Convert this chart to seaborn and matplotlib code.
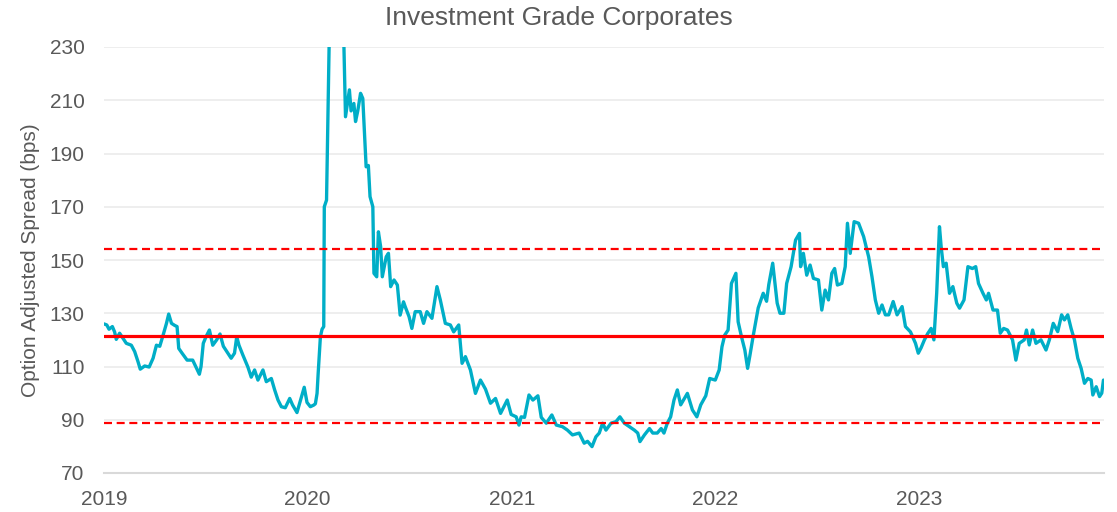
import pandas as pd
import matplotlib
matplotlib.use("Agg")
import matplotlib.pyplot as plt
import seaborn as sns

# Option adjusted spread (bps)
dates = [
    "2019-01-01", "2019-01-06", "2019-01-10", "2019-01-16", "2019-01-20", "2019-01-23", "2019-01-29",
    "2019-02-04", "2019-02-10", "2019-02-19", "2019-02-25", "2019-03-03", "2019-03-07", "2019-03-15",
    "2019-03-23", "2019-03-30", "2019-04-05", "2019-04-11", "2019-04-17", "2019-04-23", "2019-04-27",
    "2019-05-02", "2019-05-08", "2019-05-12", "2019-05-15", "2019-05-21", "2019-05-30", "2019-06-09",
    "2019-06-16", "2019-06-21", "2019-06-24", "2019-06-28", "2019-07-03", "2019-07-09", "2019-07-15",
    "2019-07-22", "2019-07-28", "2019-08-03", "2019-08-11", "2019-08-17", "2019-08-23", "2019-08-27",
    "2019-08-31", "2019-09-07", "2019-09-16", "2019-09-22", "2019-09-28", "2019-10-04", "2019-10-13",
    "2019-10-19", "2019-10-28", "2019-11-03", "2019-11-09", "2019-11-15", "2019-11-22", "2019-11-30",
    "2019-12-05", "2019-12-13", "2019-12-21", "2019-12-26", "2019-12-31",
    "2020-01-06", "2020-01-12", "2020-01-15", "2020-01-18", "2020-01-20", "2020-01-24", "2020-01-27",
    "2020-01-30", "2020-01-31", "2020-02-04", "2020-02-20", "2020-03-09", "2020-03-16", "2020-03-19",
    "2020-03-24", "2020-03-27", "2020-03-31", "2020-04-05", "2020-04-09", "2020-04-15", "2020-04-19",
    "2020-04-22", "2020-04-27", "2020-04-29", "2020-05-04", "2020-05-07", "2020-05-11", "2020-05-14",
    "2020-05-21", "2020-05-25", "2020-05-29", "2020-06-04", "2020-06-10", "2020-06-15", "2020-06-21",
    "2020-06-24", "2020-07-01", "2020-07-06", "2020-07-12", "2020-07-21", "2020-07-27", "2020-08-02",
    "2020-08-11", "2020-08-20", "2020-08-26", "2020-09-04", "2020-09-13", "2020-09-19", "2020-09-28",
    "2020-10-04", "2020-10-10", "2020-10-19", "2020-10-28", "2020-11-06", "2020-11-15", "2020-11-24",
    "2020-12-03", "2020-12-12", "2020-12-24", "2020-12-31",
    "2021-01-09", "2021-01-14", "2021-01-18", "2021-01-24", "2021-02-01", "2021-02-08", "2021-02-17",
    "2021-02-23", "2021-03-04", "2021-03-14", "2021-03-22", "2021-04-02", "2021-04-11", "2021-04-20",
    "2021-05-02", "2021-05-11", "2021-05-17", "2021-05-25", "2021-06-01", "2021-06-07", "2021-06-13",
    "2021-06-19", "2021-06-28", "2021-07-07", "2021-07-14", "2021-07-22", "2021-07-31", "2021-08-09",
    "2021-08-15", "2021-08-19", "2021-08-27", "2021-09-05", "2021-09-11", "2021-09-19", "2021-09-26",
    "2021-10-01", "2021-10-07", "2021-10-13", "2021-10-19", "2021-10-25", "2021-10-31", "2021-11-12",
    "2021-11-21", "2021-11-29", "2021-12-06", "2021-12-15", "2021-12-22",
    "2022-01-01", "2022-01-08", "2022-01-13", "2022-01-18", "2022-01-24", "2022-01-30", "2022-02-07",
    "2022-02-11", "2022-02-17", "2022-02-23", "2022-02-28", "2022-03-04", "2022-03-10", "2022-03-19",
    "2022-03-28", "2022-04-03", "2022-04-07", "2022-04-14", "2022-04-22", "2022-04-27", "2022-05-04",
    "2022-05-09", "2022-05-17", "2022-05-25", "2022-06-01", "2022-06-03", "2022-06-08", "2022-06-14",
    "2022-06-20", "2022-06-26", "2022-07-05", "2022-07-11", "2022-07-17", "2022-07-23", "2022-07-29",
    "2022-08-03", "2022-08-08", "2022-08-16", "2022-08-22", "2022-08-26", "2022-08-31", "2022-09-07",
    "2022-09-15", "2022-09-24", "2022-10-03", "2022-10-09", "2022-10-15", "2022-10-21", "2022-10-27",
    "2022-11-02", "2022-11-08", "2022-11-16", "2022-11-23", "2022-12-02", "2022-12-08", "2022-12-17",
    "2022-12-26", "2022-12-31",
    "2023-01-05", "2023-01-11", "2023-01-17", "2023-01-23", "2023-01-28", "2023-02-02", "2023-02-07",
    "2023-02-10", "2023-02-14", "2023-02-19", "2023-02-25", "2023-03-03", "2023-03-10", "2023-03-15",
    "2023-03-23", "2023-03-30", "2023-04-07", "2023-04-13", "2023-04-18", "2023-04-26", "2023-05-02",
    "2023-05-06", "2023-05-14", "2023-05-22", "2023-05-27", "2023-06-02", "2023-06-09", "2023-06-18",
    "2023-06-24", "2023-06-30", "2023-07-09", "2023-07-13", "2023-07-18", "2023-07-24", "2023-07-30",
    "2023-08-08", "2023-08-17", "2023-08-23", "2023-08-30", "2023-09-07", "2023-09-14", "2023-09-19",
    "2023-09-25", "2023-10-01", "2023-10-07", "2023-10-13", "2023-10-19", "2023-10-25", "2023-10-31",
    "2023-11-06", "2023-11-09", "2023-11-15", "2023-11-21", "2023-11-25", "2023-11-28",
]
spread_bps = [
    126.0, 125.6, 124.0, 125.0, 123.0, 120.2, 122.5,
    120.6, 118.7, 118.0, 115.6, 111.8, 109.0, 110.2,
    109.8, 113.1, 118.0, 117.6, 121.8, 126.2, 129.7,
    126.2, 125.4, 125.0, 116.8, 115.0, 112.4, 112.4,
    109.3, 107.1, 110.0, 118.7, 121.2, 123.7, 118.0,
    120.0, 122.2, 117.6, 115.0, 113.1, 115.0, 121.2,
    118.0, 114.3, 109.8, 106.0, 108.7, 104.9, 108.7,
    104.3, 105.5, 101.2, 97.4, 94.9, 94.5, 98.0,
    95.6, 92.7, 98.6, 102.2, 96.5,
    94.9, 95.5, 96.0, 99.9, 107.4, 121.2, 124.0,
    125.0, 170.0, 172.5, 373.0, 203.8, 213.9, 206.0,
    208.8, 202.0, 206.0, 212.6, 210.7, 185.0, 185.5,
    173.8, 170.0, 145.0, 143.7, 160.6, 155.0, 143.7,
    151.2, 152.5, 140.0, 142.5, 140.6, 129.3, 134.3,
    132.5, 128.7, 124.3, 130.6, 130.6, 126.2, 130.6,
    128.1, 140.0, 135.0, 126.2, 125.6, 123.0, 125.6,
    111.2, 113.7, 108.7, 99.9, 104.9, 101.5, 96.2,
    98.0, 92.4, 97.4, 92.0,
    91.1, 88.0, 91.1, 90.9, 99.3, 97.4, 99.0,
    90.9, 88.7, 91.8, 88.0, 87.4, 86.1, 84.3,
    85.0, 81.2, 81.9, 79.9, 83.6, 85.0, 88.7,
    86.1, 88.7, 89.3, 91.1, 88.7, 87.4, 86.1,
    85.0, 81.8, 84.3, 86.7, 85.0, 85.0, 86.7,
    85.0, 88.7, 91.1, 97.4, 101.2, 95.6, 99.9,
    93.7, 91.1, 95.6, 99.0, 105.5,
    104.9, 108.7, 117.4, 121.8, 123.7, 141.2, 145.0,
    126.8, 121.2, 116.2, 109.3, 114.0, 121.5, 132.0,
    137.5, 134.5, 140.8, 148.8, 133.8, 130.0, 130.0,
    141.2, 147.5, 157.5, 160.0, 147.5, 152.5, 144.3,
    148.1, 143.1, 142.5, 131.2, 138.7, 135.0, 145.0,
    146.8, 140.6, 141.2, 147.5, 163.8, 152.5, 164.4,
    163.8, 158.8, 151.2, 143.7, 135.0, 130.0, 133.1,
    129.4, 129.4, 134.4, 129.4, 132.5, 125.0, 123.0,
    118.7, 115.0,
    117.0, 120.0, 122.4, 124.3, 120.0, 137.5, 162.5,
    155.0, 147.5, 148.8, 137.5, 140.0, 133.8, 131.9,
    135.0, 147.5, 146.8, 147.5, 141.2, 137.5, 135.0,
    137.5, 131.2, 131.2, 122.5, 124.3, 123.7, 120.0,
    112.4, 118.7, 120.0, 123.7, 118.1, 123.7, 118.7,
    120.0, 116.2, 120.0, 126.2, 123.1, 129.4, 127.5,
    129.4, 124.3, 120.0, 113.1, 109.3, 103.7, 105.5,
    104.9, 99.3, 102.4, 98.7, 100.0, 104.9,
]

# reference levels: average and +/- 1 standard deviation
mean_level = 121.5
upper_band = 154.1
lower_band = 88.8

year_ticks = ["2019-01-01", "2020-01-01", "2021-01-01", "2022-01-01", "2023-01-01"]
year_labels = ["2019", "2020", "2021", "2022", "2023"]
y_ticks = [70, 90, 110, 130, 150, 170, 190, 210, 230]

df = pd.DataFrame({"Date": pd.to_datetime(dates), "OAS": spread_bps})

sns.set_style("white")
plt.rcParams["font.family"] = ["Liberation Sans", "DejaVu Sans"]
text_col = "#595959"

fig = plt.figure(figsize=(11.17, 5.12), dpi=100)
ax = fig.add_axes([104 / 1117, 39 / 512, 1000 / 1117, 426 / 512])

sns.lineplot(data=df, x="Date", y="OAS", ax=ax, color="#00AEC7", linewidth=2.4, zorder=3)
ax.axhline(mean_level, color="#ff0000", linewidth=2.3, zorder=4)
ax.axhline(upper_band, color="#ff0000", linewidth=1.6, linestyle=(0, (3.6, 2.1)), zorder=4)
ax.axhline(lower_band, color="#ff0000", linewidth=1.6, linestyle=(0, (3.6, 2.1)), zorder=4)

ax.set_ylim(70, 230)
ax.set_xlim(pd.Timestamp("2019-01-01"), pd.Timestamp("2023-11-29"))
ax.set_yticks(y_ticks)
ax.set_xticks(pd.to_datetime(year_ticks))
ax.set_xticklabels(year_labels)

ax.grid(axis="y", color="#eeeeee", linewidth=1.4)
ax.grid(axis="x", visible=False)
ax.set_axisbelow(True)

for side in ["top", "right", "left"]:
    ax.spines[side].set_visible(False)
ax.spines["bottom"].set_color("#d9d9d9")
ax.spines["bottom"].set_linewidth(1.5)

ax.tick_params(axis="x", length=5, width=1.5, color="#d9d9d9", labelsize=15, labelcolor=text_col, pad=7)
ax.tick_params(axis="y", length=0, labelsize=15, labelcolor=text_col, pad=14)

ax.set_xlabel("")
ax.set_ylabel("Option Adjusted Spread (bps)", fontsize=15, color=text_col, labelpad=7)
fig.text(0.5, 1 - 18 / 512, "Investment Grade Corporates", fontsize=19, color=text_col,
         ha="center", va="center")

fig.savefig("out.png", dpi=100)
